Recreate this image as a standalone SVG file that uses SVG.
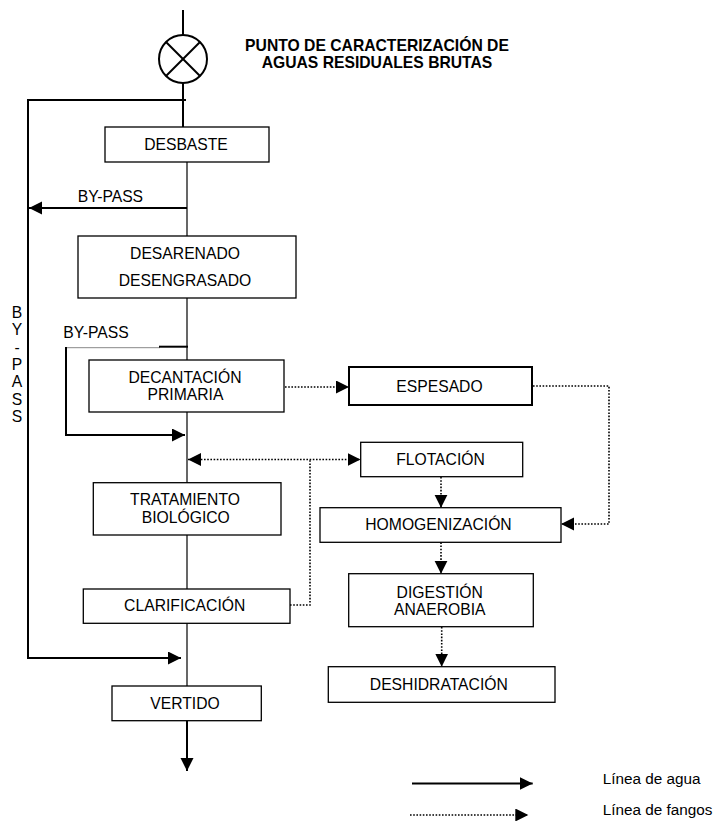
<svg xmlns="http://www.w3.org/2000/svg" width="720" height="821" viewBox="0 0 720 821">
<style>
text{font-family:"Liberation Sans",Arial,sans-serif;font-size:15.7px;fill:#000}
.c{text-anchor:middle}
.b{font-weight:bold}
.box{fill:#fff;stroke:#000;stroke-width:1.3}
.w{fill:none;stroke:#000;stroke-width:2}
.t{fill:none;stroke:#000;stroke-width:1.2}
.d{fill:none;stroke:#000;stroke-width:1.6;stroke-dasharray:1.6 1.6}
.g{fill:none;stroke:#888;stroke-width:1}
</style>
<defs>
<marker id="ah" markerUnits="userSpaceOnUse" markerWidth="14" markerHeight="14" refX="13" refY="6.5" orient="auto-start-reverse">
<path d="M0,0 L13,6.5 L0,13 z" fill="#000"/>
</marker>
</defs>
<rect width="720" height="821" fill="#fff"/>

<g id="connectors">
<line class="w" x1="183" y1="10" x2="183" y2="35"/>
<line class="w" x1="183" y1="83" x2="183" y2="127"/>
<polyline class="w" points="186,100 28,100 28,658 181,658" marker-end="url(#ah)"/>
<line class="t" x1="187" y1="162" x2="187" y2="236"/>
<line class="w" x1="187" y1="208" x2="29" y2="208" marker-end="url(#ah)"/>
<line class="t" x1="187" y1="298" x2="187" y2="360"/>
<line class="g" x1="66" y1="347.7" x2="160" y2="347.7"/>
<line class="w" x1="159" y1="346.7" x2="188" y2="346.7"/>
<polyline class="w" points="66,347 66,435 185,435" marker-end="url(#ah)"/>
<line class="t" x1="187" y1="412" x2="187" y2="483"/>
<line class="t" x1="187" y1="535" x2="187" y2="589"/>
<line class="t" x1="187" y1="623" x2="187" y2="686"/>
<line class="w" x1="187" y1="721" x2="187" y2="771" marker-end="url(#ah)"/>
<line class="d" x1="285" y1="387" x2="349" y2="387" marker-end="url(#ah)"/>
<polyline class="d" points="533,386 609,386 609,524 561,524" marker-end="url(#ah)"/>
<line class="d" x1="188" y1="459.5" x2="360.5" y2="459.5" marker-start="url(#ah)" marker-end="url(#ah)"/>
<polyline class="d" points="290,605 310,605 310,459.5"/>
<line class="d" x1="441" y1="477" x2="441" y2="507.7" marker-end="url(#ah)"/>
<line class="d" x1="441" y1="542.3" x2="441" y2="573.7" marker-end="url(#ah)"/>
<line class="d" x1="441.7" y1="627" x2="441.7" y2="666.7" marker-end="url(#ah)"/>
</g>

<g id="punto">
<circle cx="183" cy="59" r="24" class="w"/>
<line class="w" x1="166" y1="42" x2="200" y2="76"/>
<line class="w" x1="200" y1="42" x2="166" y2="76"/>
<text class="c b" x="377" y="51">PUNTO DE CARACTERIZACIÓN DE</text>
<text class="c b" x="377" y="68.3">AGUAS RESIDUALES BRUTAS</text>
</g>

<g id="desbaste">
<rect class="box" x="105" y="127" width="164" height="35"/>
<text class="c" x="186" y="150">DESBASTE</text>
</g>
<text x="77.7" y="201.7">BY-PASS</text>

<g id="desarenado">
<rect class="box" x="78" y="236" width="218" height="62"/>
<text class="c" x="185" y="259">DESARENADO</text>
<text class="c" x="185" y="285.7">DESENGRASADO</text>
</g>

<g id="bypass-vertical">
<text class="c" x="17" y="318">B</text>
<text class="c" x="17" y="335.3">Y</text>
<text class="c" x="17" y="352.6">-</text>
<text class="c" x="17" y="370">P</text>
<text class="c" x="17" y="387.2">A</text>
<text class="c" x="17" y="404.5">S</text>
<text class="c" x="17" y="422">S</text>
</g>
<text x="63.3" y="338.3">BY-PASS</text>

<g id="decantacion">
<rect class="box" x="89" y="360" width="195" height="52"/>
<text class="c" x="185" y="382.7">DECANTACIÓN</text>
<text class="c" x="185.5" y="399.5">PRIMARIA</text>
</g>

<g id="espesado">
<rect class="box" x="349" y="367" width="183" height="38" style="stroke-width:2"/>
<text class="c" x="439.5" y="391.7">ESPESADO</text>
</g>

<g id="flotacion">
<rect class="box" x="360.7" y="442.3" width="162" height="34.4"/>
<text class="c" x="440.5" y="465">FLOTACIÓN</text>
</g>

<g id="tratamiento">
<rect class="box" x="93.3" y="482.7" width="187.7" height="52.3"/>
<text class="c" x="185" y="505">TRATAMIENTO</text>
<text class="c" x="185.8" y="523.3">BIOLÓGICO</text>
</g>

<g id="homogenizacion">
<rect class="box" x="320" y="507.7" width="241" height="34.6"/>
<text class="c" x="438.5" y="530">HOMOGENIZACIÓN</text>
</g>

<g id="digestion">
<rect class="box" x="348.7" y="573.7" width="184.6" height="53"/>
<text class="c" x="439.7" y="597.5">DIGESTIÓN</text>
<text class="c" x="439.7" y="614.8">ANAEROBIA</text>
</g>

<g id="clarificacion">
<rect class="box" x="83.3" y="589" width="206.7" height="34.3"/>
<text class="c" x="184.7" y="611">CLARIFICACIÓN</text>
</g>

<g id="deshidratacion">
<rect class="box" x="328.3" y="666.7" width="226.7" height="35.6"/>
<text class="c" x="438.8" y="690">DESHIDRATACIÓN</text>
</g>

<g id="vertido">
<rect class="box" x="112" y="686" width="149.3" height="34.7"/>
<text class="c" x="185" y="709">VERTIDO</text>
</g>

<g id="legend">
<line class="w" x1="412" y1="783.5" x2="532.7" y2="783.5" marker-end="url(#ah)"/>
<line class="d" x1="410" y1="815" x2="528.3" y2="815" marker-end="url(#ah)"/>
<text x="602.7" y="784" style="font-size:15.3px">Línea de agua</text>
<text x="602.7" y="814.5" style="font-size:15.3px">Línea de fangos</text>
</g>
</svg>
